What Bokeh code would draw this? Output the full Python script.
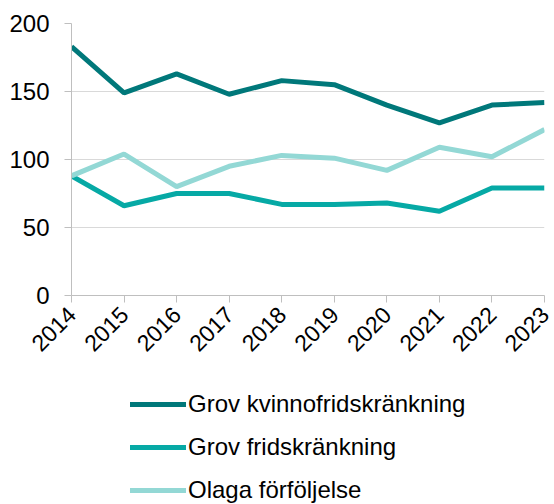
import math
from bokeh.plotting import figure
from bokeh.layouts import column
from bokeh.models import Legend, LegendItem, FixedTicker, Range1d
from bokeh.embed import file_html
from bokeh.resources import INLINE

years = [2014, 2015, 2016, 2017, 2018, 2019, 2020, 2021, 2022, 2023]
grov_kvinnofrid = [183, 149, 163, 148, 158, 155, 140, 127, 140, 142]
grov_frid = [88, 66, 75, 75, 67, 67, 68, 62, 79, 79]
olaga = [88, 104, 80, 95, 103, 101, 92, 109, 102, 122]
names = ["Grov kvinnofridskränkning", "Grov fridskränkning", "Olaga förföljelse"]
colors = ["#00787A", "#06A9A5", "#93D8D5"]
y_ticks = [0, 50, 100, 150, 200]

FONT = "Liberation Sans"

p = figure(width=554, height=370, output_backend="svg", toolbar_location=None,
           x_range=Range1d(2014, 2023), y_range=Range1d(0, 200),
           min_border_left=71, min_border_right=10, min_border_top=23, min_border_bottom=75)
p.outline_line_color = None
p.background_fill_color = "white"
p.border_fill_color = "white"

for ys, c in zip([grov_kvinnofrid, grov_frid, olaga], colors):
    p.line(years, ys, line_color=c, line_width=5)
p.xgrid.grid_line_color = None
p.ygrid.grid_line_color = "#D9D9D9"
p.ygrid.grid_line_width = 1

p.yaxis.ticker = FixedTicker(ticks=y_ticks)
p.xaxis.ticker = FixedTicker(ticks=years)
for ax in (p.xaxis, p.yaxis):
    ax.axis_line_color = "#BFBFBF"
    ax.major_tick_line_color = "#BFBFBF"
    ax.minor_tick_line_color = None
    ax.major_tick_in = 0
    ax.major_tick_out = 7
    ax.major_label_text_font = FONT
    ax.major_label_text_font_size = "24px"
    ax.major_label_text_color = "black"
p.xaxis.major_label_text_font_size = "23px"
p.xaxis.major_label_orientation = math.pi / 4
p.yaxis.major_label_standoff = 15
p.xaxis.major_label_standoff = 8

# legend figure
q = figure(width=554, height=134, output_backend="svg", toolbar_location=None,
           x_range=Range1d(0, 1), y_range=Range1d(0, 1),
           x_axis_location=None, y_axis_location=None,
           min_border_left=0, min_border_right=0, min_border_top=0, min_border_bottom=0)
q.outline_line_color = None
q.xgrid.visible = False
q.ygrid.visible = False
q.background_fill_color = "white"
q.border_fill_color = "white"
leg_renderers = [q.line([-5], [-5], line_color=c, line_width=5, line_cap="round") for c in colors]

legend = Legend(items=[LegendItem(label=n, renderers=[r]) for n, r in zip(names, leg_renderers)],
                orientation="vertical", location=(59, 0))
legend.border_line_color = None
legend.background_fill_alpha = 0
legend.label_text_font = FONT
legend.label_text_font_size = "24px"
legend.label_text_color = "black"
legend.glyph_width = 56
legend.glyph_height = 20
legend.label_height = 20
legend.label_standoff = 2
legend.spacing = 15
legend.padding = 0
legend.margin = 0
q.add_layout(legend, "center")

layout = column(p, q, spacing=0)
open("out.html", "w").write(file_html(layout, INLINE))
